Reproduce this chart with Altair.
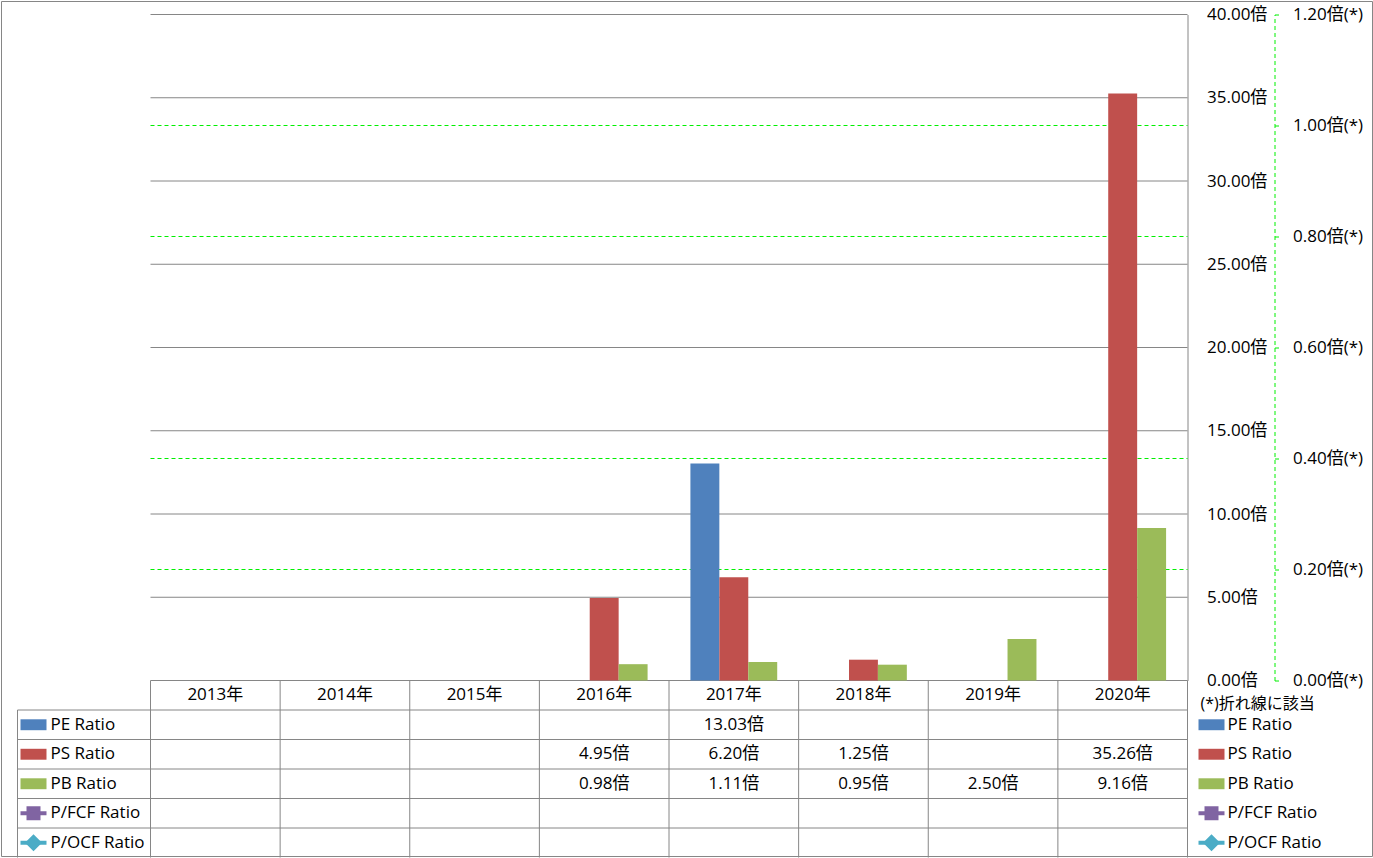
import altair as alt
import pandas as pd

# ---------------- data ----------------
years = ["2013年", "2014年", "2015年", "2016年", "2017年", "2018年", "2019年", "2020年"]
series = ["PE Ratio", "PS Ratio", "PB Ratio", "P/FCF Ratio", "P/OCF Ratio"]
colors = ["#4F81BD", "#C0504D", "#9BBB59", "#8064A2", "#4BACC6"]
pe = [None, None, None, None, 13.03, None, None, None]
ps = [None, None, None, 4.95, 6.20, 1.25, None, 35.26]
pb = [None, None, None, 0.98, 1.11, 0.95, 2.50, 9.16]
pfcf = [None, None, None, None, None, None, None, None]
pocf = [None, None, None, None, None, None, None, None]
primary_ticks = [0, 5, 10, 15, 20, 25, 30, 35, 40]
secondary_ticks = [0, 0.2, 0.4, 0.6, 0.8, 1.0, 1.2]
secondary_grid = [0.2, 0.4, 0.8, 1.0]
unit = "倍"
note = "(*)折れ線に該当"

# ---------------- layout / style ----------------
W, H = 1037, 666
TB = 177  # table height
FONT = "Open Sans, Noto Sans CJK JP"
FS = 17
GRAY = "#868686"
GREEN = "#00F000"

rows = ["header"] + series
values = dict(zip(series, [pe, ps, pb, pfcf, pocf]))

bar_df = pd.DataFrame([
    {"year": y, "series": s, "value": v}
    for s in series[:3] for y, v in zip(years, values[s]) if v is not None
])
cell_df = pd.DataFrame([
    {"year": y, "row": s, "label": f"{v:.2f}{unit}"}
    for s in series for y, v in zip(years, values[s]) if v is not None
])
header_df = pd.DataFrame({"year": years, "row": "header", "label": years})
row_df = pd.DataFrame({"row": series})
bar_rows = pd.DataFrame({"row": series[:3]})
fcf_row = pd.DataFrame({"row": [series[3]]})
ocf_row = pd.DataFrame({"row": [series[4]]})
one = pd.DataFrame({"a": [0]})

xscale = alt.Scale(domain=years, paddingInner=0, paddingOuter=0)
cscale = alt.Scale(domain=series, range=colors)
y1scale = alt.Scale(domain=[0, 40], nice=False, zero=True)
y2scale = alt.Scale(domain=[0, 1.2], nice=False, zero=True)
rscale = alt.Scale(type="band", domain=rows, range=[H, H + TB], paddingInner=0, paddingOuter=0)

axis1 = alt.Axis(orient="right", values=primary_ticks,
                 labelExpr="format(datum.value, '.2f') + '倍'",
                 domain=True, domainColor=GRAY, ticks=False, grid=False,
                 labelPadding=19, labelFont=FONT, labelFontSize=FS,
                 labelColor="black", title=None)
axis2 = alt.Axis(orient="right", offset=87, values=secondary_ticks,
                 labelExpr="format(datum.value, '.2f') + '倍(*)'",
                 domain=True, domainColor=GREEN, domainDash=[4, 3],
                 ticks=True, tickColor=GREEN, tickSize=4, grid=False,
                 labelPadding=14, labelFont=FONT, labelFontSize=FS,
                 labelColor="black", title=None)

# ---------------- secondary (line) axis + grid ----------------
grid2 = alt.Chart(pd.DataFrame({"v": secondary_grid})).mark_rule(
    color=GREEN, strokeDash=[4, 3], strokeWidth=1
).encode(
    y=alt.Y("v:Q", scale=y2scale, axis=axis2),
    x=alt.value(0), x2=alt.value(W),
)
sec_group = alt.layer(grid2)

# ---------------- primary bars + grid ----------------
grid1 = alt.Chart(pd.DataFrame({"v": primary_ticks})).mark_rule(
    color=GRAY, strokeWidth=1
).encode(
    y=alt.Y("v:Q", scale=y1scale, axis=axis1),
    x=alt.value(0), x2=alt.value(W),
)
bars = alt.Chart(bar_df).mark_bar().encode(
    x=alt.X("year:N", scale=xscale, axis=None, sort=years),
    xOffset=alt.XOffset("series:N", sort=series[:3],
                        scale=alt.Scale(domain=series[:3], paddingInner=0, paddingOuter=0.74)),
    y=alt.Y("value:Q", scale=y1scale, axis=axis1),
    color=alt.Color("series:N", scale=cscale, legend=None),
)
prim_group = alt.layer(grid1, bars)

# ---------------- data table ----------------
ry = lambda bp: alt.Y("row:N", scale=rscale, axis=None, bandPosition=bp)

hlines = alt.Chart(row_df).mark_rule(color=GRAY, strokeWidth=1).encode(
    y=ry(0), x=alt.value(-133), x2=alt.value(W)
)
vlines = alt.Chart(pd.DataFrame({"year": years})).mark_rule(color=GRAY, strokeWidth=1).encode(
    x=alt.X("year:N", scale=xscale, axis=None, bandPosition=0),
    y=alt.value(H), y2=alt.value(H + TB),
)
vline_end = alt.Chart(pd.DataFrame({"year": [years[-1]]})).mark_rule(color=GRAY, strokeWidth=1).encode(
    x=alt.X("year:N", scale=xscale, axis=None, bandPosition=1),
    y=alt.value(H), y2=alt.value(H + TB),
)
vline_left = alt.Chart(one).mark_rule(color=GRAY, strokeWidth=1).encode(
    x=alt.value(-133), y=ry(0), y2=alt.value(H + TB)
).transform_calculate(row="'PE Ratio'")

frame = alt.Chart(one).mark_rect(fillOpacity=0, stroke=GRAY, strokeWidth=1).encode(
    x=alt.value(-149), x2=alt.value(1222), y=alt.value(-13), y2=alt.value(H + TB - 1)
)

text_style = dict(font=FONT, fontSize=FS, color="black", baseline="middle")
header_text = alt.Chart(header_df).mark_text(align="center", **text_style).encode(
    x=alt.X("year:N", scale=xscale, axis=None, bandPosition=0.5),
    y=ry(0.5), text="label:N",
)
cell_text = alt.Chart(cell_df).mark_text(align="center", **text_style).encode(
    x=alt.X("year:N", scale=xscale, axis=None, bandPosition=0.5),
    y=ry(0.5), text="label:N",
)

def legend_column(xkey, xtext):
    lbl = alt.Chart(row_df).mark_text(align="left", **text_style).encode(
        x=alt.value(xtext), y=ry(0.5), text="row:N"
    )
    swatch = alt.Chart(bar_rows).mark_point(
        shape="M-1,-0.42H1V0.42H-1Z", filled=True, size=676, opacity=1
    ).encode(
        x=alt.value(xkey), y=ry(0.5),
        color=alt.Color("row:N", scale=cscale, legend=None),
    )
    lines = alt.Chart(pd.concat([fcf_row, ocf_row])).mark_rule(strokeWidth=4).encode(
        x=alt.value(xkey - 13), x2=alt.value(xkey + 13), y=ry(0.5),
        color=alt.Color("row:N", scale=cscale, legend=None),
    )
    sq = alt.Chart(fcf_row).mark_point(shape="square", filled=True, size=196, opacity=1).encode(
        x=alt.value(xkey), y=ry(0.5),
        color=alt.Color("row:N", scale=cscale, legend=None),
    )
    dm = alt.Chart(ocf_row).mark_point(shape="diamond", filled=True, size=289, opacity=1).encode(
        x=alt.value(xkey), y=ry(0.5),
        color=alt.Color("row:N", scale=cscale, legend=None),
    )
    return [lines, swatch, sq, dm, lbl]

note_text = alt.Chart(pd.DataFrame({"t": [note]})).mark_text(
    align="left", font=FONT, fontSize=16, color="black", baseline="middle"
).encode(x=alt.value(1050), y=alt.value(689), text="t:N")

table_group = alt.layer(
    frame, hlines, vlines, vline_end, vline_left, header_text, cell_text,
    *legend_column(-117, -100), *legend_column(1061, 1077), note_text,
)

chart = alt.layer(sec_group, prim_group, table_group).resolve_scale(
    y="independent"
).properties(
    width=W, height=H,
    padding={"left": 150.5, "top": 14.5, "right": 185.5, "bottom": 177.5},
    autosize=alt.AutoSizeParams(type="none"),
    background="white",
).configure_view(stroke="transparent")

chart.save("out.html", embed_options={"renderer": "svg", "actions": False})
